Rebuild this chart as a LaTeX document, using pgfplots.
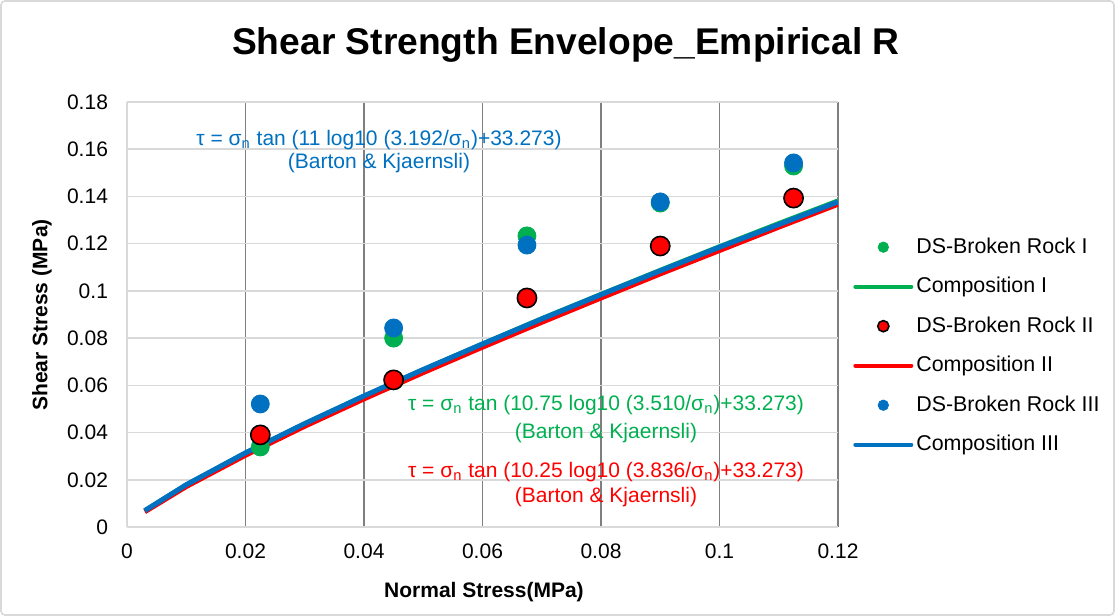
\documentclass[border=0pt]{standalone}
\usepackage{fontspec}
\setmainfont{Liberation Sans}
\usepackage{pgfplots}
\pgfplotsset{compat=1.18}
\definecolor{cgreen}{HTML}{00B050}
\definecolor{cred}{HTML}{FF0000}
\definecolor{cblue}{HTML}{0070C0}
\definecolor{gridv}{HTML}{7F7F7F}
\definecolor{gridh}{HTML}{D9D9D9}
\newcommand{\fs}{\fontsize{10.5}{12.6}\selectfont}
\newcommand{\fl}{\fontsize{10.7}{12.8}\selectfont}
\begin{document}
\begin{tikzpicture}
\draw[gridh, line width=0.8pt, rounded corners=2pt] (0.5pt,0.5pt) rectangle (557pt,307.5pt);
\useasboundingbox (0,0) rectangle (557.5pt,308pt);
\begin{axis}[
  at={(63.5pt,44.5pt)}, anchor=south west,
  scale only axis, width=355.5pt, height=212.5pt,
  xmin=0, xmax=0.12, ymin=0, ymax=0.18,
  axis x line*=bottom, axis y line*=left,
  axis line style={-, draw=gridh, line width=0.8pt},
  xtick={0.02,0.04,0.06,0.08,0.1,0.12},
  extra x ticks={0}, extra x tick style={grid=none},
  ytick={0,0.02,0.04,0.06,0.08,0.1,0.12,0.14,0.16,0.18},
  xmajorgrids, ymajorgrids,
  x grid style={gridv, line width=0.8pt},
  y grid style={gridh, line width=0.8pt},
  major tick length=0pt,
  tick label style={font=\fs, /pgf/number format/assume math mode=true},
  /pgf/number format/fixed, /pgf/number format/precision=2,
  yticklabel style={xshift=-6pt},
  xticklabel style={yshift=-4.75pt},
  legend image code/.code={\draw[mark repeat=2,mark phase=2,#1] plot coordinates {(0pt,0pt) (14pt,0pt) (28pt,0pt)};},
  legend style={at={(1.021,0.426)}, anchor=west, draw=none, fill=none, inner sep=0pt,
    font=\fl, row sep=7.5pt, nodes={inner sep=1.5pt}},
  legend cell align=left,
]
% fitted envelope curves
\addplot[forget plot, cgreen, line width=2.5pt, line join=round] coordinates {
(0.003,0.00682) (0.01,0.01777) (0.02,0.03128) (0.03,0.04366) (0.04,0.0554) (0.05,0.0666)
(0.06,0.0775) (0.07,0.0882) (0.08,0.0985) (0.09,0.1087) (0.1,0.1187) (0.11,0.1285) (0.12,0.1381)};
\addplot[forget plot, cred, line width=2.5pt, line join=round] coordinates {
(0.003,0.00645) (0.01,0.01714) (0.02,0.0304) (0.03,0.04268) (0.04,0.05426) (0.05,0.06539)
(0.06,0.07617) (0.07,0.0867) (0.08,0.0970) (0.09,0.1072) (0.1,0.1171) (0.11,0.1270) (0.12,0.1367)};
\addplot[forget plot, cblue, line width=2.5pt, line join=round] coordinates {
(0.003,0.00693) (0.01,0.0179) (0.02,0.0314) (0.03,0.0438) (0.04,0.0555) (0.05,0.0667)
(0.06,0.0775) (0.07,0.0881) (0.08,0.0984) (0.09,0.1085) (0.1,0.1185) (0.11,0.1281) (0.12,0.1377)};
% test data
\addplot[forget plot, only marks, mark=*, mark size=4.5pt, cgreen] coordinates {
(0.0225,0.0339) (0.045,0.0800) (0.0675,0.1233) (0.09,0.1372) (0.1125,0.1529)};
\addplot[forget plot, only marks, mark=*, mark size=4.8pt, mark options={draw=black, fill=cred, line width=0.8pt}] coordinates {
(0.0225,0.0390) (0.045,0.0623) (0.0675,0.0970) (0.09,0.1190) (0.1125,0.1393)};
\addplot[forget plot, only marks, mark=*, mark size=4.5pt, cblue] coordinates {
(0.0225,0.0521) (0.045,0.0843) (0.0675,0.1194) (0.09,0.1377) (0.1125,0.1542)};
% legend
\addlegendimage{only marks, mark=*, mark size=2.6pt, cgreen}
\addlegendentry{DS-Broken Rock I}
\addlegendimage{cgreen, line width=2pt, line cap=round}
\addlegendentry{Composition I}
\addlegendimage{only marks, mark=*, mark size=2.8pt, mark options={draw=black, fill=cred, line width=0.8pt}}
\addlegendentry{DS-Broken Rock II}
\addlegendimage{cred, line width=2pt, line cap=round}
\addlegendentry{Composition II}
\addlegendimage{only marks, mark=*, mark size=2.6pt, cblue}
\addlegendentry{DS-Broken Rock III}
\addlegendimage{cblue, line width=2pt, line cap=round}
\addlegendentry{Composition III}
\end{axis}
% title and axis labels
\node[font=\fontsize{18.6}{22}\selectfont\bfseries] at (283pt,285.5pt) {Shear Strength Envelope\_Empirical R};
\node[font=\fs\bfseries] at (242pt,12pt) {Normal Stress(MPa)};
\node[font=\fs\bfseries, rotate=90] at (21pt,150.5pt) {Shear Stress (MPa)};
% equation annotations
\node[font=\fs, text=cblue] at (189.5pt,238pt) {τ = σ\textsubscript{n} tan (11 log10 (3.192/σ\textsubscript{n})+33.273)};
\node[font=\fs, text=cblue] at (189.5pt,226.5pt) {(Barton \& Kjaernsli)};
\node[font=\fs, text=cgreen] at (303pt,105.5pt) {τ = σ\textsubscript{n} tan (10.75 log10 (3.510/σ\textsubscript{n})+33.273)};
\node[font=\fs, text=cgreen] at (303pt,91.5pt) {(Barton \& Kjaernsli)};
\node[font=\fs, text=cred] at (303pt,72pt) {τ = σ\textsubscript{n} tan (10.25 log10 (3.836/σ\textsubscript{n})+33.273)};
\node[font=\fs, text=cred] at (303pt,59.5pt) {(Barton \& Kjaernsli)};
\end{tikzpicture}
\end{document}
